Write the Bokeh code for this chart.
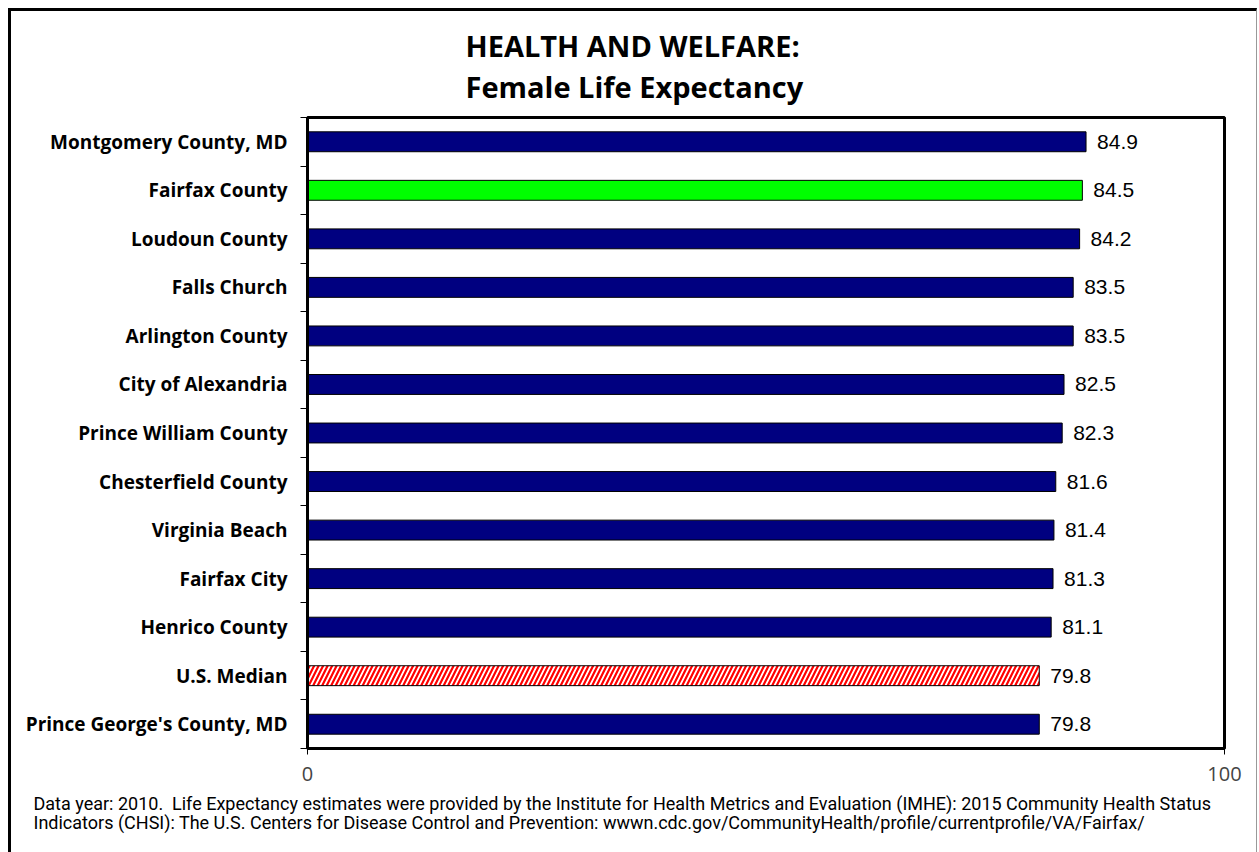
from bokeh.plotting import figure
from bokeh.models import ColumnDataSource, FixedTicker, Title
from bokeh.embed import file_html
from bokeh.resources import INLINE
from bokeh.core.properties import value

categories = ["Montgomery County, MD", "Fairfax County", "Loudoun County", "Falls Church",
              "Arlington County", "City of Alexandria", "Prince William County",
              "Chesterfield County", "Virginia Beach", "Fairfax City", "Henrico County",
              "U.S. Median", "Prince George's County, MD"]
values = [84.9, 84.5, 84.2, 83.5, 83.5, 82.5, 82.3, 81.6, 81.4, 81.3, 81.1, 79.8, 79.8]
x_ticks = [0, 100]

n = len(categories)
centers = [n - i - 0.5 for i in range(n)]
colors = []
hatch = []
for c in categories:
    if c == "Fairfax County":
        colors.append("#00FF00"); hatch.append(" ")
    elif c == "U.S. Median":
        colors.append("#FFFFFF"); hatch.append("/")
    else:
        colors.append("#000080"); hatch.append(" ")

src = ColumnDataSource(dict(y=centers, v=values, color=colors, hatch=hatch,
                            lab=[f"{v:.1f}" for v in values]))

FL, FR, FT, FB = 307, 1224, 117, 748   # frame edges on the canvas
W, H = 1259, 852

p = figure(width=W, height=H, output_backend="svg", toolbar_location=None,
           x_range=(0, 100), y_range=(0, n),
           min_border_left=FL, min_border_right=W - FR, min_border_top=FT, min_border_bottom=H - FB)
p.background_fill_color = "white"
p.border_fill_color = "white"
p.outline_line_color = "black"
p.outline_line_width = 3
p.xgrid.visible = False
p.ygrid.visible = False

p.hbar(y="y", right="v", left=0, height=0.41, source=src, fill_color="color",
       line_color="black", line_width=1, hatch_pattern="hatch", hatch_color="#FF0000",
       hatch_scale=9, hatch_weight=2.2)

p.text(x="v", y="y", text="lab", source=src, x_offset=11, text_baseline="middle",
       text_align="left", text_font=value("Liberation Sans"), text_font_size="21px",
       text_font_style="normal", text_color="black")

# x axis
p.xaxis.ticker = FixedTicker(ticks=x_ticks)
p.xaxis.axis_line_width = 3
p.xaxis.major_tick_in = 0
p.xaxis.major_tick_out = 6
p.xaxis.minor_tick_line_color = None
p.xaxis.major_label_text_font = "Open Sans"
p.xaxis.major_label_text_font_size = "20px"
p.xaxis.major_label_standoff = 12

# y axis
p.yaxis.ticker = FixedTicker(ticks=centers, minor_ticks=list(range(n + 1)))
p.yaxis.major_label_overrides = {c: lab for c, lab in zip(centers, categories)}
p.yaxis.axis_line_width = 3
p.yaxis.major_tick_line_color = None
p.yaxis.minor_tick_in = 0
p.yaxis.minor_tick_out = 7
p.yaxis.minor_tick_line_width = 1
p.yaxis.major_label_standoff = 13
p.yaxis.major_label_text_font = "Open Sans"
p.yaxis.major_label_text_font_style = "bold"
p.yaxis.major_label_text_font_size = "19px"
p.yaxis.major_label_text_color = "black"

# title (two lines)
title_text = "HEALTH AND WELFARE:\nFemale Life Expectancy"
p.add_layout(Title(text=title_text, align="left", text_font="Open Sans", text_font_size="29px",
                   text_font_style="bold", text_color="black", text_line_height=1.06,
                   standoff=22, offset=465 - FL), "above")

foot = "Data year: 2010.\u00a0 Life Expectancy estimates were provided by the Institute for Health Metrics and Evaluation (IMHE): 2015 Community Health Status\nIndicators (CHSI): The U.S. Centers for Disease Control and Prevention: wwwn.cdc.gov/CommunityHealth/profile/currentprofile/VA/Fairfax/"
p.add_layout(Title(text=foot, align="left", text_font="Roboto", text_font_size="18px",
                   text_font_style="normal", text_color="black", text_line_height=0.95,
                   standoff=14, offset=-(FL - 33)), "below")

p.stylesheets = [""":host::after {
    content: ""; position: absolute; left: 8px; top: 8px; width: 1249px; height: 900px;
    border-left: 3px solid black; border-top: 3px solid black; border-right: 1px solid #999;
    pointer-events: none; box-sizing: border-box;
}"""]

open("out.html", "w").write(file_html(p, INLINE))
